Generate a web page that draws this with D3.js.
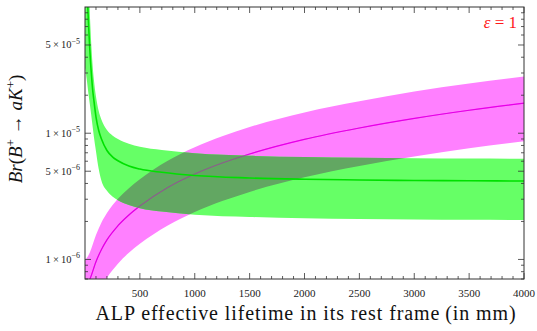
<!DOCTYPE html>
<html>
<head>
<meta charset="utf-8">
<script src="https://cdn.jsdelivr.net/npm/d3@7"></script>
<style>
  html, body { margin: 0; padding: 0; background: #fff; }
  svg { display: block; }
  text { font-family: "Liberation Serif", "DejaVu Serif", serif; }
</style>
</head>
<body>
<svg id="chart" width="537" height="331"></svg>
<script>
// ---- data ----
const greenLifetime = [0, 10, 20, 30, 40, 50, 60, 70, 80, 100, 125, 150, 200, 250, 300, 400, 500, 700, 1000, 1500, 2000, 2500, 3000, 3500, 4000];
const greenCentral = [4e-4, 2.2e-4, 1.3e-4, 8e-5, 5.3e-5, 3.7e-5, 2.8e-5, 2.2e-5, 1.85e-5, 1.35e-5, 1.05e-5, 9.0e-6, 7.3e-6, 6.5e-6, 6.05e-6, 5.5e-6, 5.2e-6, 4.9e-6, 4.62e-6, 4.42e-6, 4.32e-6, 4.26e-6, 4.22e-6, 4.2e-6, 4.18e-6];
const greenUpper = [3e-3, 1.2e-3, 5e-4, 2.2e-4, 1.1e-4, 6.8e-5, 4.6e-5, 3.4e-5, 2.7e-5, 1.95e-5, 1.5e-5, 1.28e-5, 1.06e-5, 9.6e-6, 9.0e-6, 8.25e-6, 7.8e-6, 7.35e-6, 6.93e-6, 6.63e-6, 6.48e-6, 6.39e-6, 6.33e-6, 6.3e-6, 6.27e-6];
const greenLower = [3.3e-5, 2.9e-5, 2.5e-5, 2.1e-5, 1.8e-5, 1.55e-5, 1.32e-5, 1.12e-5, 9.5e-6, 7.2e-6, 5.2e-6, 4.2e-6, 3.5e-6, 3.15e-6, 2.95e-6, 2.7e-6, 2.55e-6, 2.4e-6, 2.26e-6, 2.17e-6, 2.12e-6, 2.09e-6, 2.07e-6, 2.06e-6, 2.05e-6];

const magentaLifetime = [0, 45, 100, 150, 200, 300, 400, 500, 750, 1000, 1250, 1500, 2000, 2500, 3000, 3500, 4000];
const magentaCentral = [6.0e-7, 7.0e-7, 9.6e-7, 1.2e-6, 1.43e-6, 1.85e-6, 2.25e-6, 2.65e-6, 3.7e-6, 4.75e-6, 5.8e-6, 6.85e-6, 8.95e-6, 1.1e-5, 1.31e-5, 1.52e-5, 1.73e-5];
const magentaUpper = [9.8e-7, 1.14e-6, 1.56e-6, 1.96e-6, 2.33e-6, 3.02e-6, 3.67e-6, 4.32e-6, 6.03e-6, 7.74e-6, 9.45e-6, 1.12e-5, 1.46e-5, 1.79e-5, 2.14e-5, 2.48e-5, 2.82e-5];
const magentaLower = [3.0e-7, 3.5e-7, 4.8e-7, 6.0e-7, 7.15e-7, 9.25e-7, 1.13e-6, 1.33e-6, 1.85e-6, 2.38e-6, 2.9e-6, 3.43e-6, 4.48e-6, 5.5e-6, 6.55e-6, 7.6e-6, 8.65e-6];

const xTickValues = [500, 1000, 1500, 2000, 2500, 3000, 3500, 4000];
const yTickMantissa = [1, 5];
const yTickExponents = [-6, -5];
const xLabel = "ALP effective lifetime in its rest frame\u2009(in mm)";

// ---- layout ----
const svg = d3.select("#chart");
const pL = 85, pR = 524, pT = 7, pB = 279;
const x = d3.scaleLinear().domain([0, 4000]).range([pL, pR]);
const y = d3.scaleLog().domain([7e-7, 1e-4]).range([pB, pT]);

const defs = svg.append("defs");
defs.append("clipPath").attr("id", "plotClip")
  .append("rect").attr("x", pL).attr("y", pT).attr("width", pR - pL).attr("height", pB - pT);

const green = greenLifetime.map((t, i) => ({t, c: greenCentral[i], u: greenUpper[i], l: greenLower[i]}));
const magenta = magentaLifetime.map((t, i) => ({t, c: magentaCentral[i], u: magentaUpper[i], l: magentaLower[i]}));

const area = d3.area().curve(d3.curveMonotoneX)
  .x(d => x(d.t)).y0(d => y(d.l)).y1(d => y(d.u));
const line = d3.line().curve(d3.curveMonotoneX)
  .x(d => x(d.t)).y(d => y(d.c));

defs.append("clipPath").attr("id", "greenClip")
  .append("path").attr("d", area(green));

const plot = svg.append("g").attr("clip-path", "url(#plotClip)");

plot.append("path").attr("d", area(magenta)).attr("fill", "#ff80ff");
plot.append("path").attr("d", line(magenta)).attr("fill", "none").attr("stroke", "#ff00ff").attr("stroke-width", 1.2);
plot.append("path").attr("d", area(green)).attr("fill", "#66ff66");
plot.append("g").attr("clip-path", "url(#greenClip)")
  .append("path").attr("d", area(magenta)).attr("fill", "#62a762");
plot.append("path").attr("d", line(magenta)).attr("fill", "none").attr("stroke", "#c000c0").attr("stroke-width", 1.1).attr("stroke-opacity", 0.45);
plot.append("path").attr("d", line(green)).attr("fill", "none").attr("stroke", "#00e000").attr("stroke-width", 1.6);

// ---- frame and ticks ----
const axisColor = "#333";
svg.append("rect").attr("x", pL).attr("y", pT).attr("width", pR - pL).attr("height", pB - pT)
  .attr("fill", "none").attr("stroke", axisColor).attr("stroke-width", 1);

const xMinor = d3.range(100, 4000, 100).filter(v => v % 500 !== 0);
const tickG = svg.append("g").attr("stroke", axisColor).attr("stroke-width", 0.8);
xTickValues.forEach(v => {
  tickG.append("line").attr("x1", x(v)).attr("x2", x(v)).attr("y1", pB).attr("y2", pB - 6);
  tickG.append("line").attr("x1", x(v)).attr("x2", x(v)).attr("y1", pT).attr("y2", pT + 6);
});
xMinor.forEach(v => {
  tickG.append("line").attr("x1", x(v)).attr("x2", x(v)).attr("y1", pB).attr("y2", pB - 3);
  tickG.append("line").attr("x1", x(v)).attr("x2", x(v)).attr("y1", pT).attr("y2", pT + 3);
});

const yMajor = [];
yTickExponents.forEach(e => yTickMantissa.forEach(m => yMajor.push({v: m * Math.pow(10, e), m, e})));
const yMinor = [];
[-7, -6, -5].forEach(e => [2, 3, 4, 6, 7, 8, 9].forEach(m => {
  const v = m * Math.pow(10, e);
  if (v >= 7e-7 && v <= 1e-4) yMinor.push(v);
}));
yMajor.forEach(d => {
  tickG.append("line").attr("x1", pL).attr("x2", pL + 6).attr("y1", y(d.v)).attr("y2", y(d.v));
  tickG.append("line").attr("x1", pR).attr("x2", pR - 6).attr("y1", y(d.v)).attr("y2", y(d.v));
});
yMinor.forEach(v => {
  tickG.append("line").attr("x1", pL).attr("x2", pL + 3).attr("y1", y(v)).attr("y2", y(v));
  tickG.append("line").attr("x1", pR).attr("x2", pR - 3).attr("y1", y(v)).attr("y2", y(v));
});

// tick labels
svg.append("g").selectAll("text").data(xTickValues).join("text")
  .attr("x", d => x(d)).attr("y", 296.5).attr("text-anchor", "middle")
  .attr("font-size", 11).attr("fill", "#222").text(d => d);

const yl = svg.append("g").selectAll("text").data(yMajor).join("text")
  .attr("x", 80).attr("y", d => y(d.v) + 3.5).attr("text-anchor", "end")
  .attr("font-size", 10.5).attr("fill", "#222");
yl.append("tspan").text(d => d.m + "\u2009\u00D7\u200910");
yl.append("tspan").attr("dy", -4.5).attr("font-size", 8).text(d => "\u2212" + Math.abs(d.e));

// axis labels
svg.append("text").attr("x", 306).attr("y", 320).attr("text-anchor", "middle")
  .attr("font-size", 20).attr("letter-spacing", 0.9).attr("fill", "#111").text(xLabel);

const ylab = svg.append("text").attr("transform", "translate(22,129) rotate(-90)")
  .attr("text-anchor", "middle").attr("font-size", 19).attr("fill", "#111");
ylab.append("tspan").attr("font-style", "italic").text("Br");
ylab.append("tspan").text("(");
ylab.append("tspan").attr("font-style", "italic").text("B");
ylab.append("tspan").attr("dy", -7).attr("font-size", 13).text("+");
ylab.append("tspan").attr("dy", 7).text(" \u2192 ");
ylab.append("tspan").attr("font-style", "italic").text("aK");
ylab.append("tspan").attr("dy", -7).attr("font-size", 13).text("+");
ylab.append("tspan").attr("dy", 7).text(")");

const ann = svg.append("text").attr("x", 517).attr("y", 27.5).attr("text-anchor", "end")
  .attr("font-size", 17).attr("fill", "#ff1a1a");
ann.append("tspan").attr("font-style", "italic").text("\u03B5");
ann.append("tspan").text(" = 1");
</script>
</body>
</html>
